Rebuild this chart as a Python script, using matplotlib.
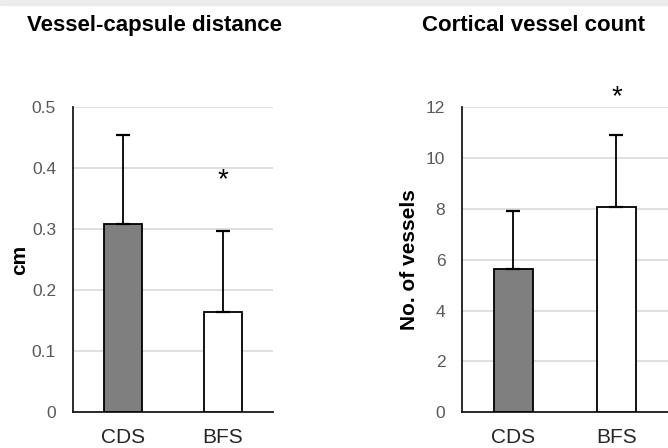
import matplotlib.pyplot as plt
from matplotlib.patches import Rectangle

plt.rcParams['font.family'] = ['Liberation Sans', 'DejaVu Sans']

groups = ["CDS", "BFS"]
bar_colors = ["#7f7f7f", "#ffffff"]

# vessel-capsule distance (cm)
dist_mean = [0.309, 0.164]
dist_sd = [0.145, 0.133]
dist_star = 0.38

# cortical vessel count
count_mean = [5.64, 8.08]
count_sd = [2.29, 2.82]
count_star = 12.4


def panel(ax, means, sds, ylim, yticks, ylabel, star_y, star_idx, tickfmt, lpad):
    x = range(len(groups))
    ax.bar(x, means, width=0.38, color=bar_colors, edgecolor="black",
           linewidth=1.3, zorder=3)
    ax.errorbar(x, means, yerr=[[0] * len(sds), sds], fmt="none",
                ecolor="black", elinewidth=1.3, capsize=5, capthick=1.6, zorder=4)
    ax.set_xlim(-0.5, 1.5)
    ax.set_ylim(*ylim)
    ax.set_yticks(yticks)
    ax.set_yticklabels([tickfmt(t) for t in yticks])
    ax.set_xticks(list(x))
    ax.set_xticklabels(groups)
    ax.tick_params(axis="y", length=0, labelsize=12.5, labelcolor="#595959", pad=12)
    ax.tick_params(axis="x", length=0, labelsize=15, labelcolor="#262626", pad=11)
    ax.yaxis.grid(True, color="#d9d9d9", linewidth=1.2, zorder=0)
    ax.set_axisbelow(True)
    for s in ["top", "right"]:
        ax.spines[s].set_visible(False)
    for s in ["left", "bottom"]:
        ax.spines[s].set_color("#1a1a1a")
        ax.spines[s].set_linewidth(1.3)
    ax.set_ylabel(ylabel, fontsize=15, fontweight="bold", labelpad=lpad)
    ax.text(star_idx, star_y, "*", ha="center", va="center", fontsize=20,
            clip_on=False)
    return ax


fig = plt.figure(figsize=(6.68, 4.48), dpi=100)
fig.patches.append(Rectangle((0, 0.989), 1, 0.011, transform=fig.transFigure,
                             color="#ececec", zorder=0))

ax1 = fig.add_axes([0.1088, 0.0797, 0.2994, 0.6808])
panel(ax1, dist_mean, dist_sd, (0, 0.5), [0, 0.1, 0.2, 0.3, 0.4, 0.5], "cm",
      dist_star, 1, lambda t: "0" if t == 0 else f"{t:.1f}", 2)

ax2 = fig.add_axes([0.6916, 0.0797, 0.3084, 0.6808])
panel(ax2, count_mean, count_sd, (0, 12), [0, 2, 4, 6, 8, 10, 12], "No. of vessels",
      count_star, 1, lambda t: f"{t:d}", 5)

fig.text(0.2313, 0.944, "Vessel-capsule distance", ha="center", va="center",
         fontsize=16, fontweight="bold")
fig.text(0.799, 0.944, "Cortical vessel count", ha="center", va="center",
         fontsize=16, fontweight="bold")

fig.savefig("out.png", dpi=100)
